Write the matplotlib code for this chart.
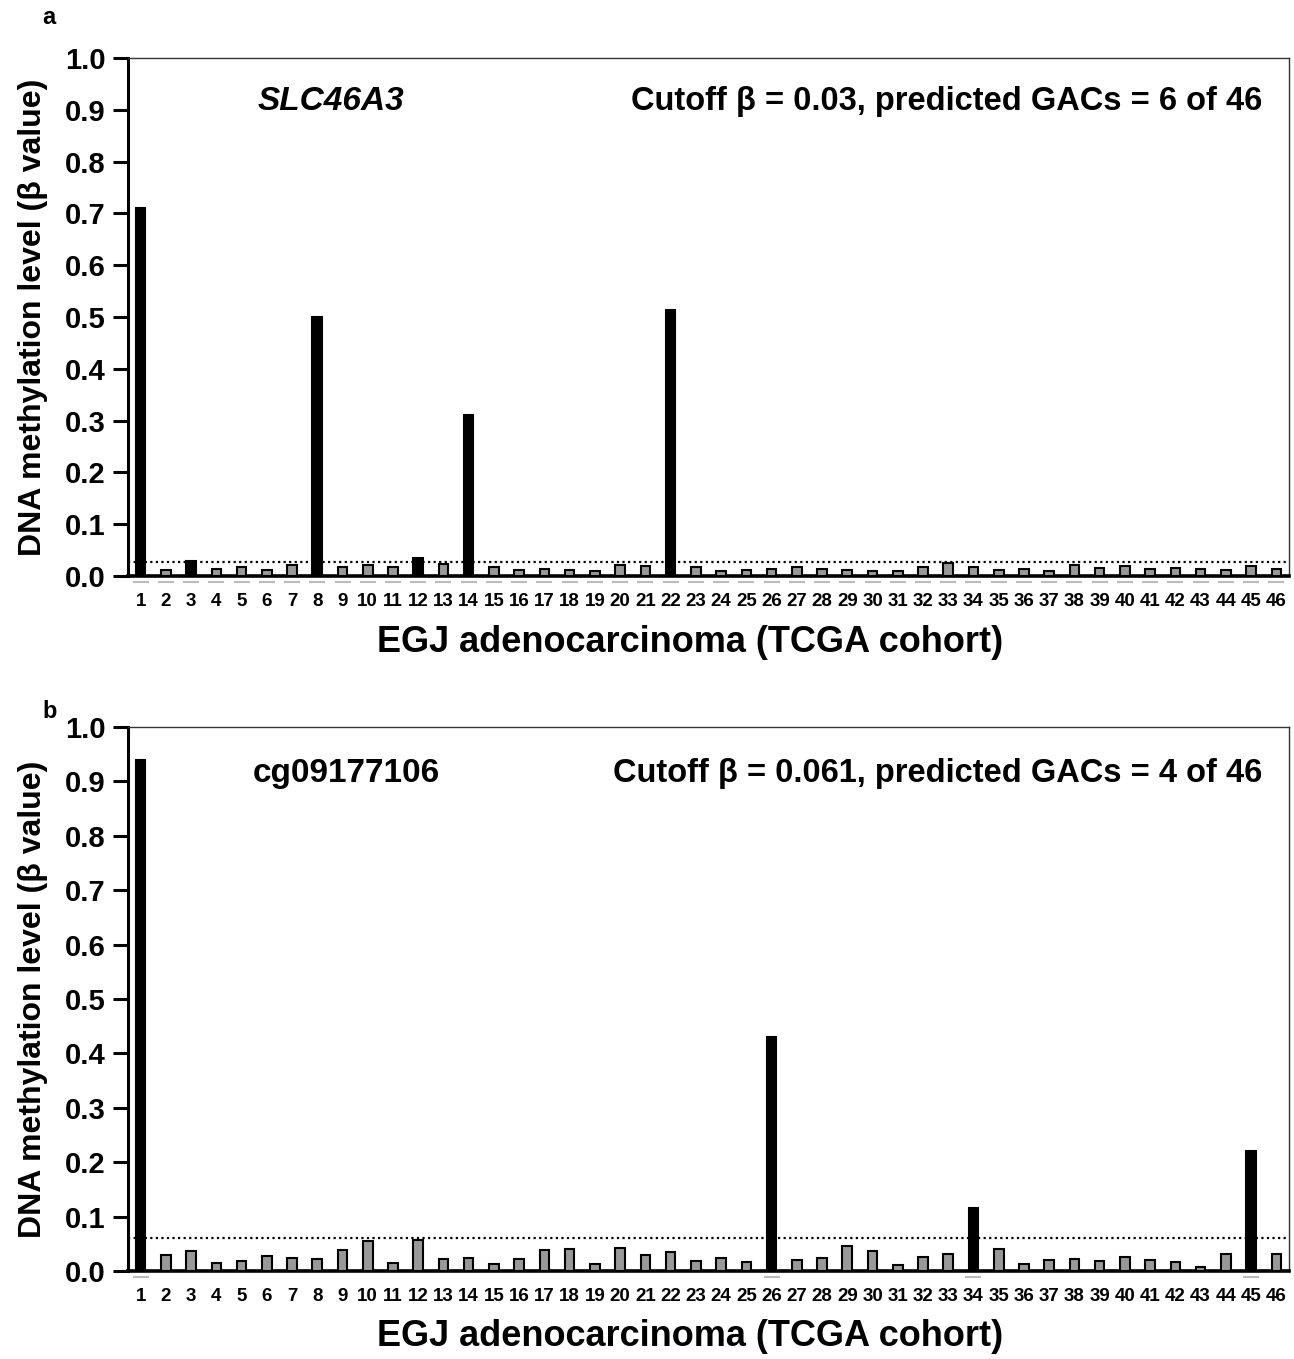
import numpy as np
import matplotlib.pyplot as plt
from matplotlib.transforms import blended_transform_factory

plt.rcParams['font.family'] = ['Liberation Sans', 'DejaVu Sans']
plt.rcParams['font.weight'] = 'bold'

# sample numbers 1..46
samples = list(range(1, 47))

# panel a: SLC46A3 beta values
beta_a = [0.71, 0.012, 0.028, 0.0135, 0.018, 0.012, 0.021, 0.50, 0.017, 0.022,
          0.017, 0.035, 0.0225, 0.31, 0.0175, 0.012, 0.014, 0.011, 0.0095, 0.022,
          0.020, 0.513, 0.018, 0.010, 0.012, 0.013, 0.017, 0.014, 0.012, 0.0097,
          0.010, 0.017, 0.0245, 0.018, 0.012, 0.014, 0.0097, 0.021, 0.016, 0.019,
          0.014, 0.0155, 0.014, 0.0115, 0.019, 0.0135]
cutoff_a = 0.026

# panel b: cg09177106 beta values
beta_b = [0.94, 0.030, 0.036, 0.014, 0.019, 0.028, 0.024, 0.022, 0.039, 0.055,
          0.015, 0.056, 0.022, 0.024, 0.0125, 0.022, 0.039, 0.040, 0.0125, 0.043,
          0.029, 0.034, 0.018, 0.023, 0.016, 0.43, 0.021, 0.024, 0.045, 0.036,
          0.0105, 0.026, 0.031, 0.115, 0.040, 0.0125, 0.021, 0.022, 0.018, 0.026,
          0.020, 0.017, 0.0072, 0.031, 0.22, 0.032]
cutoff_b = 0.061

panels = [
    dict(letter='a', vals=beta_a, cut=cutoff_a, name='SLC46A3', italic=True, name_x=0.175,
         note='Cutoff \u03b2 = 0.03, predicted GACs = 6 of 46',
         rect=[0.0989, 0.5762, 0.8972, 0.3812], gray_all=True, letter_y=0.9868, xlab_y=-0.129),
    dict(letter='b', vals=beta_b, cut=cutoff_b, name='cg09177106', italic=False, name_x=0.188,
         note='Cutoff \u03b2 = 0.061, predicted GACs = 4 of 46',
         rect=[0.0989, 0.0648, 0.8972, 0.4003], gray_all=False, letter_y=0.4761, xlab_y=-0.121),
]

fig = plt.figure(figsize=(12.94, 13.59), dpi=100)

for p in panels:
    ax = fig.add_axes(p['rect'])
    vals = np.array(p['vals'])
    x = np.array(samples)
    above = vals > p['cut']
    colors = np.where(above, 'black', '#999999')
    ax.bar(x, vals, width=0.38, color=colors, edgecolor='black', linewidth=1.5, zorder=3)

    # light grey dashes under the baseline
    trans = blended_transform_factory(ax.transData, ax.transAxes)
    dash_x = x if p['gray_all'] else x[above]
    ax.plot(dash_x, [-0.012] * len(dash_x), linestyle='none', marker='_',
            markersize=11, markeredgewidth=1.5, color='#bbbbbb',
            transform=trans, clip_on=False)

    ax.axhline(p['cut'], color='black', linestyle=(0, (1, 1.5)), linewidth=1.6, zorder=2)

    ax.set_xlim(0.5, 46.5)
    ax.set_ylim(0, 1.0)
    ax.set_yticks(np.arange(0, 1.01, 0.1))
    ax.set_yticklabels([f'{v:.1f}' for v in np.arange(0, 1.01, 0.1)], fontsize=21, fontweight='bold')
    ax.set_xticks(x)
    ax.set_xticklabels([str(s) for s in samples], fontsize=13.5, fontweight='bold',
                       family=['Liberation Sans Narrow', 'Liberation Sans'])
    ax.tick_params(axis='x', length=0, pad=12)
    ax.tick_params(axis='y', direction='out', length=11, width=2.2, pad=5)

    for side in ['top', 'right']:
        ax.spines[side].set_linewidth(1.0)
        ax.spines[side].set_color('#333333')
    ax.spines['left'].set_linewidth(2.2)
    ax.spines['bottom'].set_linewidth(2.6)

    ax.set_xlabel('EGJ adenocarcinoma (TCGA cohort)', fontsize=26, fontweight='bold', va='center')
    ax.xaxis.set_label_coords(0.484, p['xlab_y'])
    ax.set_ylabel('DNA methylation level (\u03b2 value)', fontsize=23, fontweight='bold', labelpad=12)

    ax.text(p['name_x'], 0.915, p['name'], transform=ax.transAxes, ha='center', va='center',
            fontsize=24, fontweight='bold', style='italic' if p['italic'] else 'normal')
    ax.text(0.977, 0.915, p['note'], transform=ax.transAxes, ha='right', va='center',
            fontsize=23.5, fontweight='bold')

    fig.text(0.033, p['letter_y'], p['letter'], fontsize=17, fontweight='bold',
             ha='left', va='center')

fig.savefig('out.png', dpi=100)
